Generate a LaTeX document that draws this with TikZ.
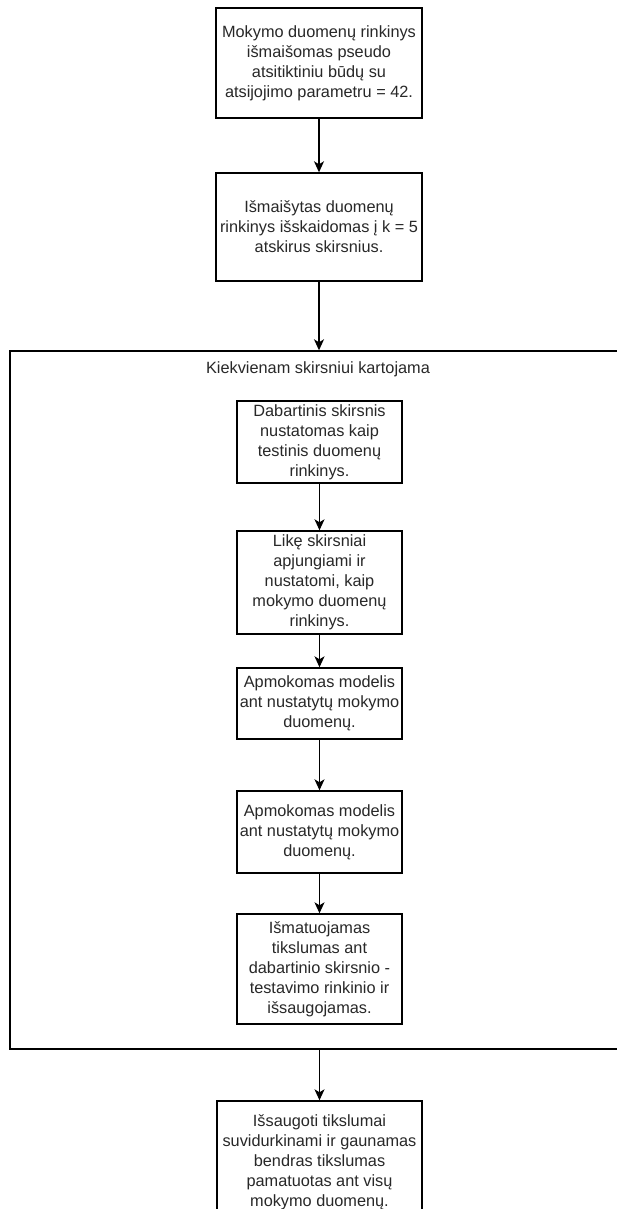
\documentclass[tikz,border=0pt]{standalone}
\usepackage{fontspec}
\setmainfont{Liberation Sans}
\usetikzlibrary{arrows.meta}
\definecolor{txt}{RGB}{40,40,40}
\begin{document}
\begin{tikzpicture}[x=1pt,y=1pt,
  font=\fontsize{16.3}{20}\selectfont,
  every node/.style={text=txt},
  stepbox/.style={draw=black,line width=1.4pt,rectangle,inner sep=0pt,align=center,fill=white},
  frame/.style={draw=black,line width=1.4pt,rectangle,inner sep=0pt},
  flow/.style={draw=black,line width=1.4pt,-{Stealth[length=11pt,width=10pt,inset=3pt]}}]
\useasboundingbox (0,0) rectangle (616,-1209);

% outer sequence
\node[stepbox,minimum width=206pt,minimum height=110pt] (shuffle) at (319,-63)
  {Mokymo duomenų rinkinys\\išmaišomas pseudo\\atsitiktiniu būdų su\\atsijojimo parametru = 42.};
\node[stepbox,minimum width=206pt,minimum height=108pt] (split) at (319,-227)
  {Išmaišytas duomenų\\rinkinys išskaidomas į k = 5\\atskirus skirsnius.};

% loop frame (its right side runs past the page edge)
\node[frame,minimum width=610pt,minimum height=698pt] (loop) at (315,-700) {};
\node (looplabel) at (318,-369) {Kiekvienam skirsniui kartojama};

% loop body
\node[stepbox,minimum width=165pt,minimum height=82pt] (test) at (319.5,-442)
  {Dabartinis skirsnis\\nustatomas kaip\\testinis duomenų\\rinkinys.};
\node[stepbox,minimum width=165pt,minimum height=103pt] (train) at (319.5,-582.5)
  {Likę skirsniai\\apjungiami ir\\nustatomi, kaip\\mokymo duomenų\\rinkinys.};
\node[stepbox,minimum width=165pt,minimum height=71pt] (fitA) at (319.5,-703.5)
  {Apmokomas modelis\\ant nustatytų mokymo\\duomenų.};
\node[stepbox,minimum width=165pt,minimum height=82pt] (fitB) at (319.5,-832)
  {Apmokomas modelis\\ant nustatytų mokymo\\duomenų.};
\node[stepbox,minimum width=165pt,minimum height=110pt] (measure) at (319.5,-969)
  {Išmatuojamas\\tikslumas ant\\dabartinio skirsnio -\\testavimo rinkinio ir\\išsaugojamas.};

% final step (lower part runs past the page edge)
\node[stepbox,minimum width=205pt,minimum height=122pt] (average) at (319.5,-1162)
  {Išsaugoti tikslumai\\suvidurkinami ir gaunamas\\bendras tikslumas\\pamatuotas ant visų\\mokymo duomenų.};

\coordinate (loopin) at (split.south |- loop.north);
\coordinate (loopout) at (average.north |- loop.south);

% connectors
\draw[flow] (shuffle.south) -- (split.north);
\draw[flow] (split.south) -- (loopin);
\draw[flow] (test.south) -- (train.north);
\draw[flow] (train.south) -- (fitA.north);
\draw[flow] (fitA.south) -- (fitB.north);
\draw[flow] (fitB.south) -- (measure.north);
\draw[flow] (loopout) -- (average.north);
\end{tikzpicture}
\end{document}
